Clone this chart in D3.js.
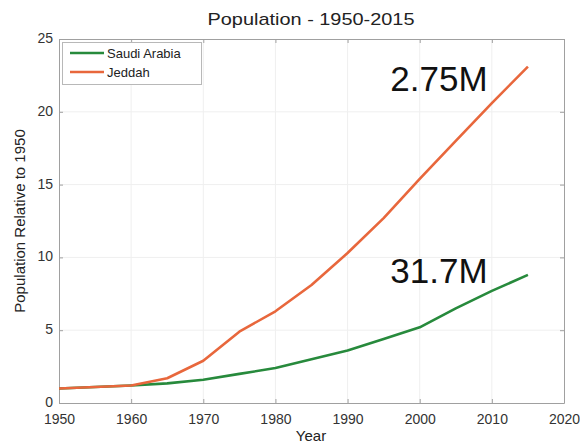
<!DOCTYPE html>
<html>
<head>
<meta charset="utf-8">
<script src="https://cdn.jsdelivr.net/npm/d3@7"></script>
<style>
  body { margin: 0; background: #fff; }
  text { font-family: "Liberation Sans", Arial, Helvetica, sans-serif; }
</style>
</head>
<body>
<svg id="chart" width="580" height="443"></svg>
<script>
// Population relative to 1950, five-year steps
const years = [1950, 1955, 1960, 1965, 1970, 1975, 1980, 1985, 1990, 1995, 2000, 2005, 2010, 2015];
const saudiArabia = [1.0, 1.1, 1.2, 1.35, 1.6, 2.0, 2.4, 3.0, 3.6, 4.4, 5.2, 6.5, 7.7, 8.8];
const jeddah = [1.0, 1.1, 1.2, 1.7, 2.9, 4.9, 6.3, 8.1, 10.3, 12.7, 15.4, 18.0, 20.6, 23.1];
const seriesNames = ["Saudi Arabia", "Jeddah"];
const xTicks = [1950, 1960, 1970, 1980, 1990, 2000, 2010, 2020];
const yTicks = [0, 5, 10, 15, 20, 25];
const endLabels = ["31.7M", "2.75M"];

const svg = d3.select("#chart");
const m = { left: 59, right: 564, top: 39, bottom: 403 };

const x = d3.scaleLinear().domain([1950, 2020]).range([m.left, m.right]);
const y = d3.scaleLinear().domain([0, 25]).range([m.bottom, m.top]);

const colors = ["#278a3c", "#e8673c"];
const axisColor = "#a0a0a0";

// faint grid
svg.append("g").selectAll("line").data(xTicks.slice(1, -1)).join("line")
  .attr("x1", d => x(d)).attr("x2", d => x(d))
  .attr("y1", m.top).attr("y2", m.bottom)
  .attr("stroke", "#efefef").attr("stroke-width", 1);
svg.append("g").selectAll("line").data(yTicks.slice(1, -1)).join("line")
  .attr("x1", m.left).attr("x2", m.right)
  .attr("y1", d => y(d)).attr("y2", d => y(d))
  .attr("stroke", "#efefef").attr("stroke-width", 1);

// axes with inward ticks, mirrored on the opposite sides
function styleAxis(g) {
  g.select(".domain").attr("stroke", axisColor);
  g.selectAll(".tick line").attr("stroke", axisColor);
  g.selectAll(".tick text").attr("fill", "#333").attr("font-size", 14);
}
svg.append("g").attr("transform", `translate(0,${m.bottom})`)
  .call(d3.axisBottom(x).tickValues(xTicks).tickFormat(d3.format("d")).tickSizeInner(-4).tickSizeOuter(0).tickPadding(11))
  .call(styleAxis);
svg.append("g").attr("transform", `translate(0,${m.top})`)
  .call(d3.axisTop(x).tickValues(xTicks).tickFormat("").tickSizeInner(-4).tickSizeOuter(0))
  .call(styleAxis);
svg.append("g").attr("transform", `translate(${m.left},0)`)
  .call(d3.axisLeft(y).tickValues(yTicks).tickSizeInner(-4).tickSizeOuter(0).tickPadding(6))
  .call(styleAxis)
  .call(g => g.selectAll(".tick text").attr("dy", "0.25em"));
svg.append("g").attr("transform", `translate(${m.right},0)`)
  .call(d3.axisRight(y).tickValues(yTicks).tickFormat("").tickSizeInner(-4).tickSizeOuter(0))
  .call(styleAxis);

// series lines
const line = d3.line().x((d, i) => x(years[i])).y(d => y(d));
[saudiArabia, jeddah].forEach((vals, k) => {
  svg.append("path").datum(vals)
    .attr("d", line)
    .attr("fill", "none")
    .attr("stroke", colors[k])
    .attr("stroke-width", 2.6)
    .attr("stroke-linejoin", "round");
});

// end-of-line population labels
svg.append("text").attr("x", 439).attr("y", 283)
  .attr("text-anchor", "middle").attr("font-size", 35).attr("fill", "#111")
  .text(endLabels[0]);
svg.append("text").attr("x", 439).attr("y", 91)
  .attr("text-anchor", "middle").attr("font-size", 35).attr("fill", "#111")
  .text(endLabels[1]);

// legend
const lg = svg.append("g");
lg.append("rect").attr("x", 62.5).attr("y", 42.5).attr("width", 139).attr("height", 42)
  .attr("fill", "#fff").attr("stroke", "#b8b8b8");
seriesNames.forEach((name, k) => {
  const ly = 53 + k * 19;
  lg.append("line").attr("x1", 70).attr("x2", 104).attr("y1", ly).attr("y2", ly)
    .attr("stroke", colors[k]).attr("stroke-width", 2.6);
  lg.append("text").attr("x", 107).attr("y", ly + 4.5).attr("font-size", 13).attr("fill", "#222")
    .text(name);
});

// title and axis labels
svg.append("text").attr("x", 311).attr("y", 25).attr("text-anchor", "middle")
  .attr("font-size", 17).attr("fill", "#222")
  .attr("textLength", 207).attr("lengthAdjust", "spacingAndGlyphs")
  .text("Population - 1950-2015");
svg.append("text").attr("x", 311).attr("y", 441).attr("text-anchor", "middle")
  .attr("font-size", 15).attr("fill", "#222").text("Year");
svg.append("text").attr("transform", "translate(25,221) rotate(-90)")
  .attr("text-anchor", "middle").attr("font-size", 15).attr("fill", "#222")
  .text("Population Relative to 1950");
</script>
</body>
</html>
